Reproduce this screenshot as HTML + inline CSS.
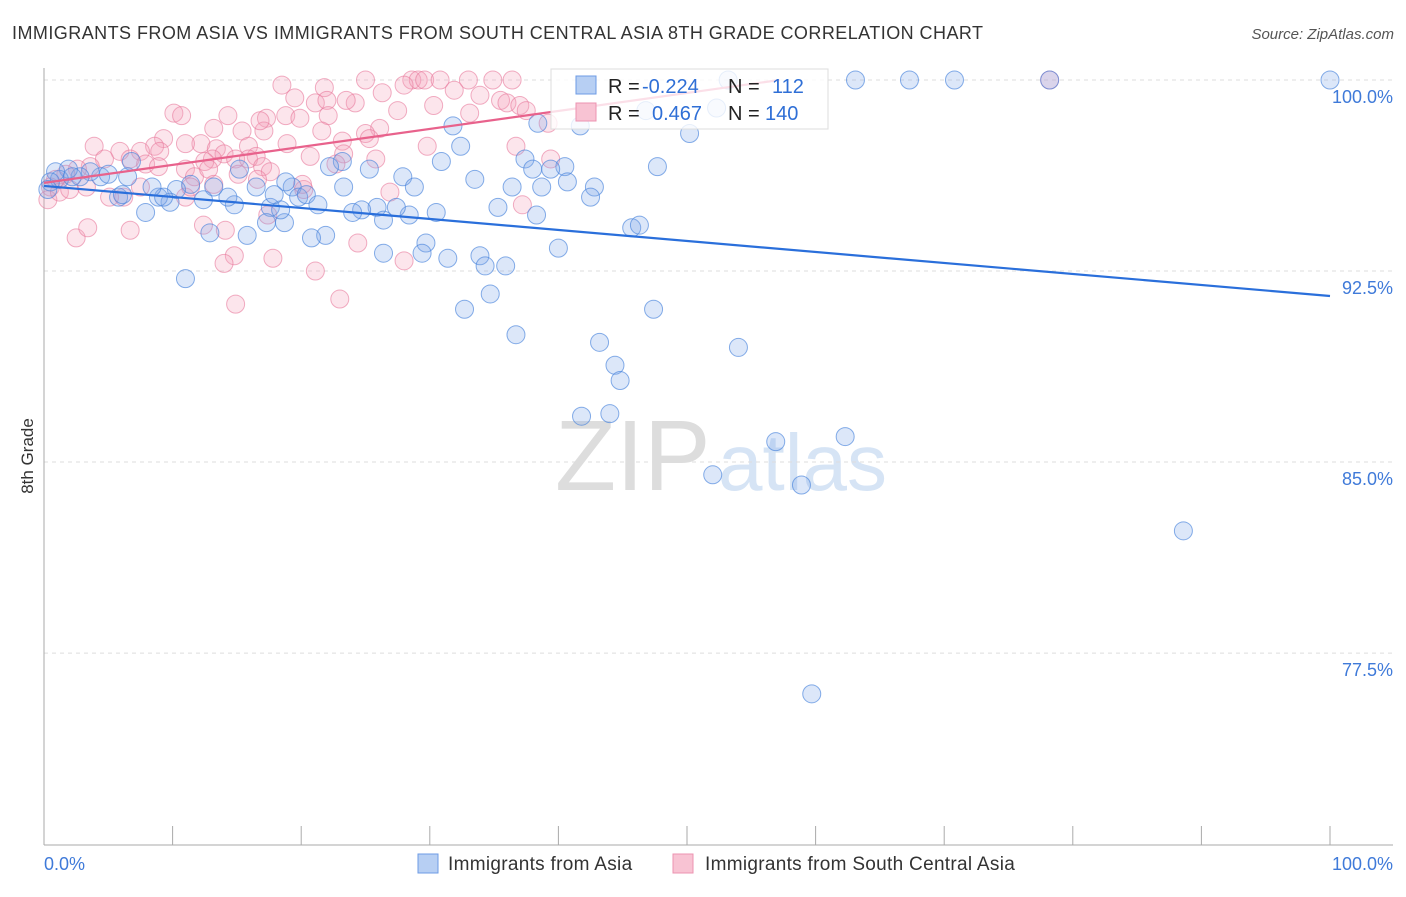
<!DOCTYPE html>
<html><head><meta charset="utf-8"><style>
body{margin:0;background:#fff;font-family:"Liberation Sans",sans-serif}
svg text{font-family:"Liberation Sans",sans-serif}
</style></head><body>
<svg id="c" width="1406" height="892">
<text x="12" y="39" font-size="18" fill="#333" letter-spacing="0.45">IMMIGRANTS FROM ASIA VS IMMIGRANTS FROM SOUTH CENTRAL ASIA 8TH GRADE CORRELATION CHART</text>
<text x="1394" y="39" font-size="15" fill="#555" text-anchor="end" font-style="italic">Source: ZipAtlas.com</text>
<text x="33" y="456" font-size="17" fill="#333" text-anchor="middle" transform="rotate(-90 33 456)">8th Grade</text>
<text x="555" y="490" font-size="100" fill="#ddd" font-family="Liberation Serif">ZIP</text>
<text x="718" y="490" font-size="80" fill="#d6e4f5">atlas</text>
<g id="grid"></g><g id="pts"></g><g id="trend"></g>
<g>
<rect x="551" y="69" width="277" height="60" fill="#fff" fill-opacity="0.8" stroke="#ddd"/>
<rect x="576" y="76" width="20" height="18" fill="#b7cff3" stroke="#6d9be4"/>
<rect x="576" y="103" width="20" height="18" fill="#f8c3d3" stroke="#ec93b0"/>
<text x="608" y="93" font-size="20" fill="#222">R = </text><text x="642" y="93" font-size="20" fill="#2f6fd6">-0.224</text>
<text x="728" y="93" font-size="20" fill="#222">N = </text><text x="772" y="93" font-size="20" fill="#2f6fd6">112</text>
<text x="608" y="120" font-size="20" fill="#222">R = </text><text x="652" y="120" font-size="20" fill="#2f6fd6">0.467</text>
<text x="728" y="120" font-size="20" fill="#222">N = </text><text x="765" y="120" font-size="20" fill="#2f6fd6">140</text>
</g>
<g>
<rect x="418" y="854" width="20" height="19" fill="#b7cff3" stroke="#6d9be4"/>
<text x="448" y="870" font-size="19" fill="#333" letter-spacing="0.3">Immigrants from Asia</text>
<rect x="673" y="854" width="20" height="19" fill="#f8c3d3" stroke="#ec93b0"/>
<text x="705" y="870" font-size="19" fill="#333" letter-spacing="0.3">Immigrants from South Central Asia</text>
</g>
</svg>
<script>
const yTicks=[100,92.5,85,77.5];
const yTickLabels=["100.0%","92.5%","85.0%","77.5%"];
const xTickLabels=["0.0%","100.0%"];
const blueX=[100,63.1,67.3,70.8,78.2,53.2,52.3,46.8,50.2,47.7,31.8,32.4,30.9,33.5,27.9,28.8,25.3,23.2,22.2,23.3,37.4,38,40.5,39.4,40.7,38.7,36.4,42.8,42.5,35.3,38.3,45.7,46.3,30.5,28.4,27.4,25.9,24.7,24,26.4,29.7,29.4,26.4,31.4,33.9,34.3,35.9,40,34.7,32.7,36.7,47.4,43.2,44.4,44.8,54,41.8,44,56.9,62.3,52,58.9,88.6,59.7,21.9,20.8,18.7,17.6,18.4,19.3,19.8,20.4,21.3,18.8,16.5,15.2,17.9,15.8,17.3,14.8,14.3,13.2,12.9,12.4,11.4,10.3,11,9.8,8.9,7.9,9.3,8.4,6.8,6.5,5.8,6.1,4.4,3.6,2.8,1.9,1.2,0.9,0.5,0.3,2.2,5,38.4,41.7];
const blueY=[100,100,100,100,100,100,98.9,98.8,97.9,96.6,98.2,97.4,96.8,96.1,96.2,95.8,96.5,96.8,96.6,95.8,96.9,96.5,96.6,96.5,96,95.8,95.8,95.8,95.4,95,94.7,94.2,94.3,94.8,94.7,95,95,94.9,94.8,94.5,93.6,93.2,93.2,93,93.1,92.7,92.7,93.4,91.6,91,90,91,89.7,88.8,88.2,89.5,86.8,86.9,85.8,86,84.5,84.1,82.3,75.9,93.9,93.8,94.4,95,94.9,95.8,95.4,95.5,95.1,96,95.8,96.5,95.5,93.9,94.4,95.1,95.4,95.8,94,95.3,95.9,95.7,92.2,95.2,95.4,94.8,95.4,95.8,96.8,96.2,95.4,95.5,96.2,96.4,96.2,96.5,96.1,96.4,96,95.7,96.2,96.3,98.3,98.2];
const pinkX=[78.2,25,28.6,29.1,29.6,30.8,33,34.9,36.4,18.5,21.8,26.3,19.5,21.1,22,24.2,27.5,30.3,33.1,35.5,36,37,39.2,10.1,10.7,14.3,17.3,17.1,18.8,19.9,22.1,21.6,13.2,15.4,26.1,25,25.3,23.2,18.9,15.9,12.2,11,9.3,8.6,3.9,5.9,7.5,9,13.4,14,13.1,12.5,14.9,16.5,15.9,17,20.7,23.3,25.8,29.8,39.4,36.7,4.7,6.7,7.9,8.9,11,11.7,17.6,15.1,12.8,3.6,2.6,1.7,0.9,0.5,0.3,1.2,2,3.3,5.1,6.2,7.5,11,11.4,13.2,16.6,20.2,17.4,2.5,3.4,6.7,12.4,14.1,14.8,14,17.8,21.1,24.4,28,14.9,23,37.2,26.9,20.1,22.7,31.9,33.9,37.5,23.5,16.8,28];
const pinkY=[100,100,100,100,100,100,100,100,100,99.8,99.7,99.5,99.3,99.1,99.2,99.1,98.8,99,98.7,99.2,99.1,99,98.3,98.7,98.6,98.6,98.5,98,98.6,98.5,98.6,98,98.1,98,98.1,97.9,97.7,97.6,97.5,97.4,97.5,97.5,97.7,97.4,97.4,97.2,97.2,97.2,97.3,97.1,96.9,96.8,96.9,97,96.9,96.6,97,97.1,96.9,97.4,96.9,97.4,96.9,96.9,96.7,96.6,96.5,96.2,96.4,96.3,96.5,96.6,96.5,96.3,96.1,95.8,95.3,95.6,95.7,95.8,95.4,95.4,95.8,95.4,95.8,95.9,96.1,95.7,94.7,93.8,94.2,94.1,94.3,94.1,93.1,92.8,93,92.5,93.6,92.9,91.2,91.4,95.1,95.6,95.9,96.7,99.6,99.4,98.8,99.2,98.4,99.8];
const blueTrendX=[0,100], blueTrendY=[95.84,91.52];
const pinkTrendX=[0,57.2], pinkTrendY=[95.96,100];
const NS="http://www.w3.org/2000/svg";
const X0=44,X1=1330,Y0=80,PPU=25.47;
function sx(v){return X0+(X1-X0)*v/100;}
function sy(v){return Y0+(100-v)*PPU;}
function mk(t,a,p){const e=document.createElementNS(NS,t);for(const k in a)e.setAttribute(k,a[k]);p.appendChild(e);return e;}
const g=document.getElementById('grid');
yTicks.forEach((t,i)=>{
 const l=mk('line',{x1:X0,x2:1393,y1:sy(t),y2:sy(t),stroke:'#ddd','stroke-dasharray':'4 4'},g);
 
 
 const tx=mk('text',{x:1393,y:sy(t)+23,'font-size':18,fill:'#3f7ad9','text-anchor':'end'},g);
 tx.textContent=yTickLabels[i];
 
 
});
const ax=mk('line',{x1:X0,x2:X0,y1:68,y2:845,stroke:'#aaa'},g);


const bx=mk('line',{x1:X0,x2:1393,y1:845,y2:845,stroke:'#aaa'},g);


for(let i=0;i<=10;i++){const t=mk('line',{x1:sx(i*10),x2:sx(i*10),y1:826,y2:845,stroke:'#aaa'},g);
 
 }
[[0,'start'],[100,'end']].forEach((d,i)=>{const t=mk('text',{x:i?1393:44,y:870,'font-size':18,fill:'#3f7ad9','text-anchor':d[1]},g);
 t.textContent=xTickLabels[i];
 
 });
const p=document.getElementById('pts');
function dots(xs,ys,fill,stroke,name){xs.forEach((x,i)=>{const c=mk('circle',{cx:sx(x),cy:sy(ys[i]),r:9,fill:fill,stroke:stroke,'stroke-width':1},p);
 
 });}
dots(pinkX,pinkY,'rgba(245,160,185,0.28)','rgba(232,120,155,0.6)','pink-point');
dots(blueX,blueY,'rgba(130,170,235,0.28)','rgba(70,130,220,0.65)','blue-point');
const tr=document.getElementById('trend');
const b=mk('line',{x1:sx(blueTrendX[0]),y1:sy(blueTrendY[0]),x2:sx(blueTrendX[1]),y2:sy(blueTrendY[1]),stroke:'#2a6fdb','stroke-width':2.2},tr);


const pk=mk('line',{x1:sx(pinkTrendX[0]),y1:sy(pinkTrendY[0]),x2:sx(pinkTrendX[1]),y2:sy(pinkTrendY[1]),stroke:'#e8628c','stroke-width':2.2},tr);


</script>
</body></html>
